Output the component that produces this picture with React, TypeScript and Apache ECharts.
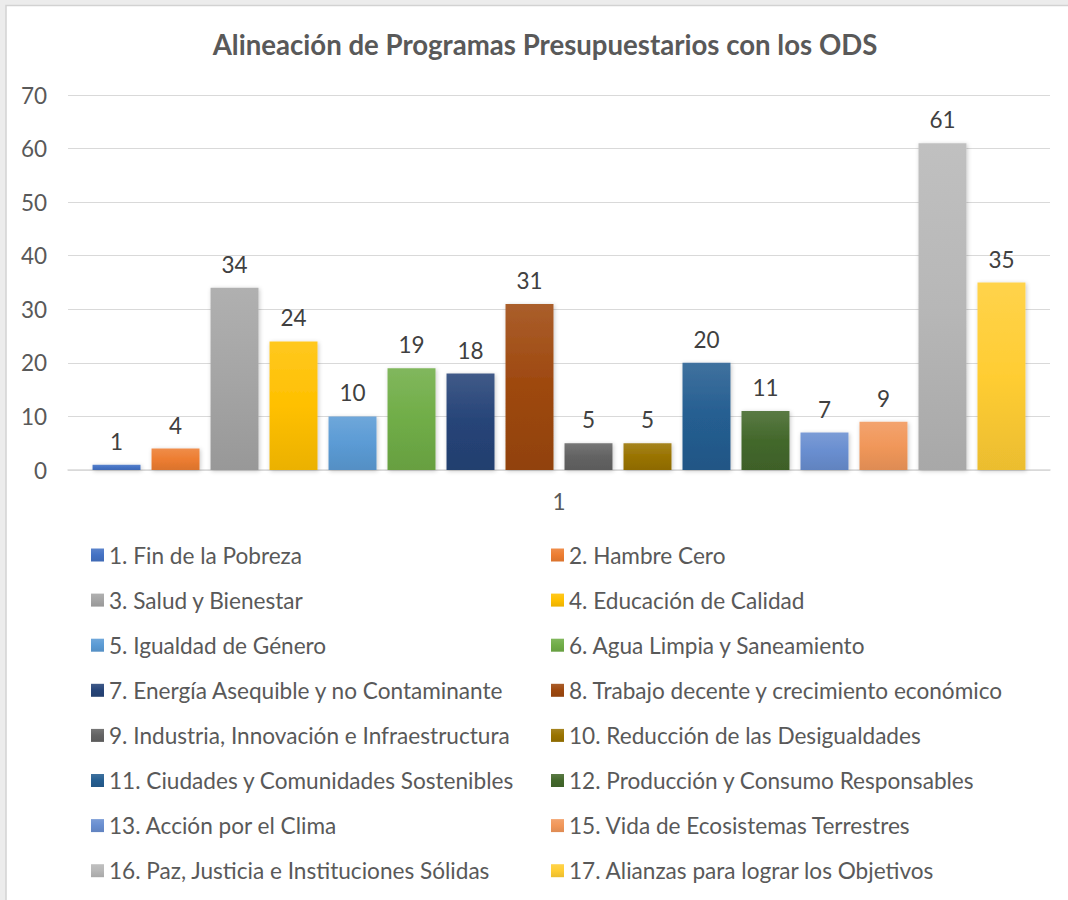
import React, { useEffect, useRef } from "react";
import * as echarts from "echarts";

const titleText = "Alineación de Programas Presupuestarios con los ODS";
const categories = ["1"];
const seriesNames = [
  "1. Fin de la Pobreza",
  "2. Hambre Cero",
  "3. Salud y Bienestar",
  "4. Educación de Calidad",
  "5. Igualdad de Género",
  "6. Agua Limpia y Saneamiento",
  "7. Energía Asequible y no Contaminante",
  "8. Trabajo decente y crecimiento económico",
  "9. Industria, Innovación e Infraestructura",
  "10. Reducción de las Desigualdades",
  "11. Ciudades y Comunidades Sostenibles",
  "12. Producción y Consumo Responsables",
  "13. Acción por el Clima",
  "15. Vida de Ecosistemas Terrestres",
  "16. Paz, Justicia e Instituciones Sólidas",
  "17. Alianzas para lograr los Objetivos",
];
const seriesValues = [1, 4, 34, 24, 10, 19, 18, 31, 5, 5, 20, 11, 7, 9, 61, 35];
const seriesColors = [
  "#4472C4", "#ED7D31", "#A5A5A5", "#FFC000", "#5B9BD5", "#70AD47",
  "#264478", "#9E480E", "#636363", "#997300", "#255E91", "#43682B",
  "#698ED0", "#F1975A", "#B7B7B7", "#FFCD33",
];
const yTicks = { min: 0, max: 70, interval: 10 };

const FONT = "Lato, 'Open Sans', sans-serif";

function mix(hex: string, target: number, t: number): string {
  const n = parseInt(hex.slice(1), 16);
  const r = (n >> 16) & 255, g = (n >> 8) & 255, b = n & 255;
  const f = (c: number) => Math.round(c + (target - c) * t);
  return "rgb(" + f(r) + "," + f(g) + "," + f(b) + ")";
}

export default function App() {
  const ref = useRef<HTMLDivElement>(null);
  useEffect(() => {
    if (!ref.current) return;
    const chart = echarts.init(ref.current, undefined, { renderer: "svg" });
    const series = seriesNames.map((name, i) => ({
      name,
      type: "bar",
      data: [seriesValues[i]],
      barGap: "23%",
      barCategoryGap: "5%",
      itemStyle: {
        color: new echarts.graphic.LinearGradient(0, 0, 0, 1, [
          { offset: 0, color: mix(seriesColors[i], 255, 0.12) },
          { offset: 0.5, color: seriesColors[i] },
          { offset: 1, color: mix(seriesColors[i], 0, 0.08) },
        ]),
        shadowBlur: 4,
        shadowColor: "rgba(0,0,0,0.22)",
        shadowOffsetX: 1,
        shadowOffsetY: 1,
      },
      label: {
        show: true,
        position: "top",
        distance: 12,
        color: "#404040",
        fontFamily: FONT,
        fontSize: 22.5,
      },
    }));
    const legendBase = {
      orient: "vertical",
      top: 543,
      padding: 0,
      itemWidth: 13,
      itemHeight: 13,
      itemGap: 21.1,
      icon: "rect",
      textStyle: {
        color: "#595959",
        fontFamily: FONT,
        fontSize: 22.6,
        lineHeight: 24,
      },
    };
    chart.setOption({
      animation: false,
      backgroundColor: "#ececec",
      graphic: [
        {
          type: "rect",
          z: -10,
          shape: { x: 6, y: 5.5, width: 1200, height: 1000 },
          style: { fill: "#ffffff", stroke: "#d2d2d2", lineWidth: 1.5 },
          silent: true,
        },
      ],
      title: {
        text: titleText,
        left: 540,
        textAlign: "center",
        top: 25,
        textStyle: {
          color: "#595959",
          fontFamily: FONT,
          fontWeight: "bold",
          fontSize: 27.6,
        },
      },
      legend: [
        { ...legendBase, left: 91, data: seriesNames.filter((_, i) => i % 2 === 0) },
        { ...legendBase, left: 551, data: seriesNames.filter((_, i) => i % 2 === 1) },
      ],
      grid: { left: 68, right: 18, top: 95, bottom: 430, containLabel: false },
      xAxis: {
        type: "category",
        data: categories,
        axisLine: { lineStyle: { color: "#d9d9d9", width: 1.5 } },
        axisTick: { show: false },
        axisLabel: { color: "#595959", fontFamily: FONT, fontSize: 22.5, margin: 20 },
      },
      yAxis: {
        type: "value",
        min: yTicks.min,
        max: yTicks.max,
        interval: yTicks.interval,
        axisLine: { show: false },
        axisTick: { show: false },
        splitLine: { lineStyle: { color: "#d9d9d9", width: 1.2 } },
        axisLabel: { color: "#595959", fontFamily: FONT, fontSize: 22.5, margin: 21 },
      },
      series,
    });
    return () => chart.dispose();
  }, []);
  return (
    <div
      ref={ref}
      style={{ position: "absolute", left: 0, top: 0, width: 1068, height: 900 }}
    />
  );
}
